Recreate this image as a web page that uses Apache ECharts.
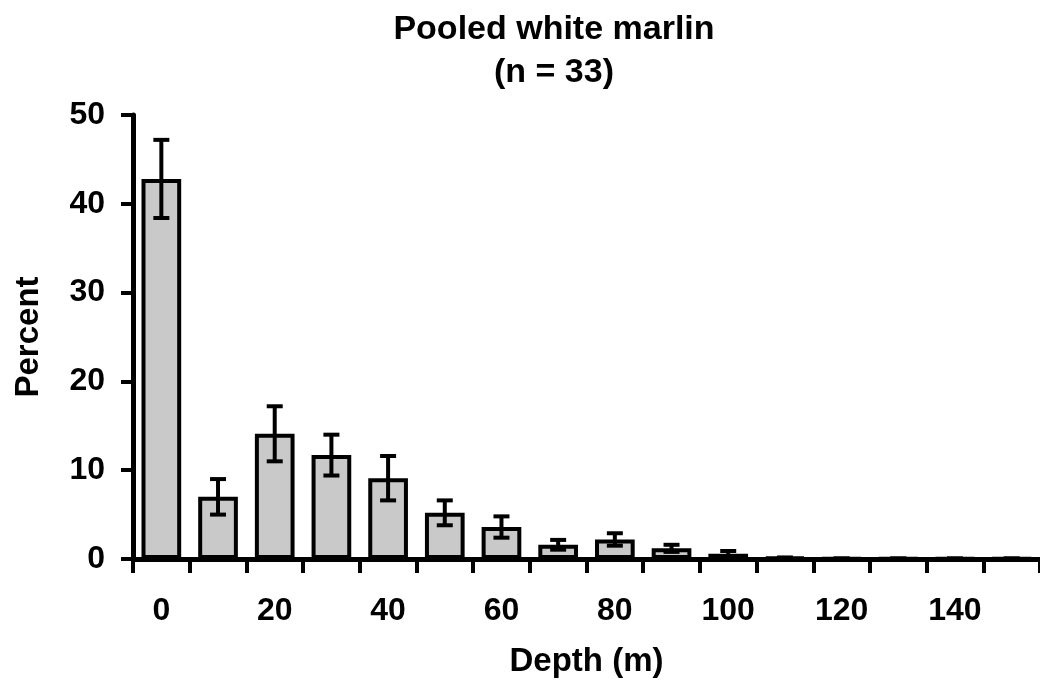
<!DOCTYPE html>
<html>
<head>
<meta charset="utf-8">
<script src="https://cdn.jsdelivr.net/npm/echarts@6/dist/echarts.min.js"></script>
<style>
html,body{margin:0;padding:0;background:#fff;}
#chart{width:1040px;height:693px;}
</style>
</head>
<body>
<div id="chart"></div>
<script>
// Depth bins (m)
var depths = ['0','10','20','30','40','50','60','70','80','90','100','110','120','130','140','150'];
// Mean percent time at depth
var percent = [42.8, 7.0, 14.1, 11.7, 9.1, 5.2, 3.6, 1.6, 2.2, 1.2, 0.6, 0.15, 0.05, 0.05, 0.05, 0.05];
// Error (+/-)
var errors = [4.4, 2.0, 3.1, 2.3, 2.5, 1.4, 1.2, 0.55, 0.7, 0.4, 0.3, 0, 0, 0, 0, 0];
var yTicks = [0, 10, 20, 30, 40, 50];

var FONT = '"Liberation Sans", Arial, sans-serif';
var errData = percent.map(function (v, i) { return [i, v - errors[i], v + errors[i]]; });

var chart = echarts.init(document.getElementById('chart'), null, {renderer: 'canvas'});
chart.setOption({
  animation: false,
  backgroundColor: '#ffffff',
  graphic: [
    {type: 'text', x: 554, y: 13, style: {text: 'Pooled white marlin', font: 'bold 34px ' + FONT, fill: '#000', textAlign: 'center'}},
    {type: 'text', x: 554, y: 56, style: {text: '(n = 33)', font: 'bold 34px ' + FONT, fill: '#000', textAlign: 'center'}}
  ],
  grid: {left: 133, right: 0, top: 115, bottom: 134, containLabel: false},
  xAxis: {
    type: 'category',
    data: depths,
    boundaryGap: true,
    name: 'Depth (m)',
    nameLocation: 'middle',
    nameGap: 86,
    nameTextStyle: {fontFamily: FONT, fontWeight: 'bold', fontSize: 33, color: '#000'},
    axisLine: {show: true, lineStyle: {color: '#000', width: 5}},
    axisTick: {show: true, interval: 0, length: 14, lineStyle: {color: '#000', width: 4}},
    axisLabel: {interval: 1, margin: 36, fontFamily: FONT, fontWeight: 'bold', fontSize: 32, color: '#000'},
    splitLine: {show: false}
  },
  yAxis: {
    type: 'value',
    min: 0, max: 50, interval: 10,
    name: 'Percent',
    nameLocation: 'middle',
    nameRotate: 90,
    nameGap: 88,
    nameTextStyle: {fontFamily: FONT, fontWeight: 'bold', fontSize: 33, color: '#000'},
    axisLine: {show: true, lineStyle: {color: '#000', width: 5}},
    axisTick: {show: true, length: 12, lineStyle: {color: '#000', width: 4}},
    axisLabel: {margin: 28, fontFamily: FONT, fontWeight: 'bold', fontSize: 32, color: '#000'},
    splitLine: {show: false}
  },
  series: [
    {
      type: 'bar',
      data: percent,
      barWidth: '70%',
      itemStyle: {color: '#c9c9c9', borderColor: '#000', borderWidth: 4},
      z: 2
    },
    {
      type: 'custom',
      data: errData,
      z: 5,
      renderItem: function (params, api) {
        var x = api.value(0);
        var lo = api.coord([x, api.value(1)]);
        var hi = api.coord([x, api.value(2)]);
        var cap = 8;
        var st = {stroke: '#000', lineWidth: 4};
        return {
          type: 'group',
          children: [
            {type: 'line', shape: {x1: hi[0], y1: hi[1], x2: lo[0], y2: lo[1]}, style: st},
            {type: 'line', shape: {x1: hi[0] - cap, y1: hi[1], x2: hi[0] + cap, y2: hi[1]}, style: st},
            {type: 'line', shape: {x1: lo[0] - cap, y1: lo[1], x2: lo[0] + cap, y2: lo[1]}, style: st}
          ]
        };
      }
    }
  ]
});
</script>
</body>
</html>
